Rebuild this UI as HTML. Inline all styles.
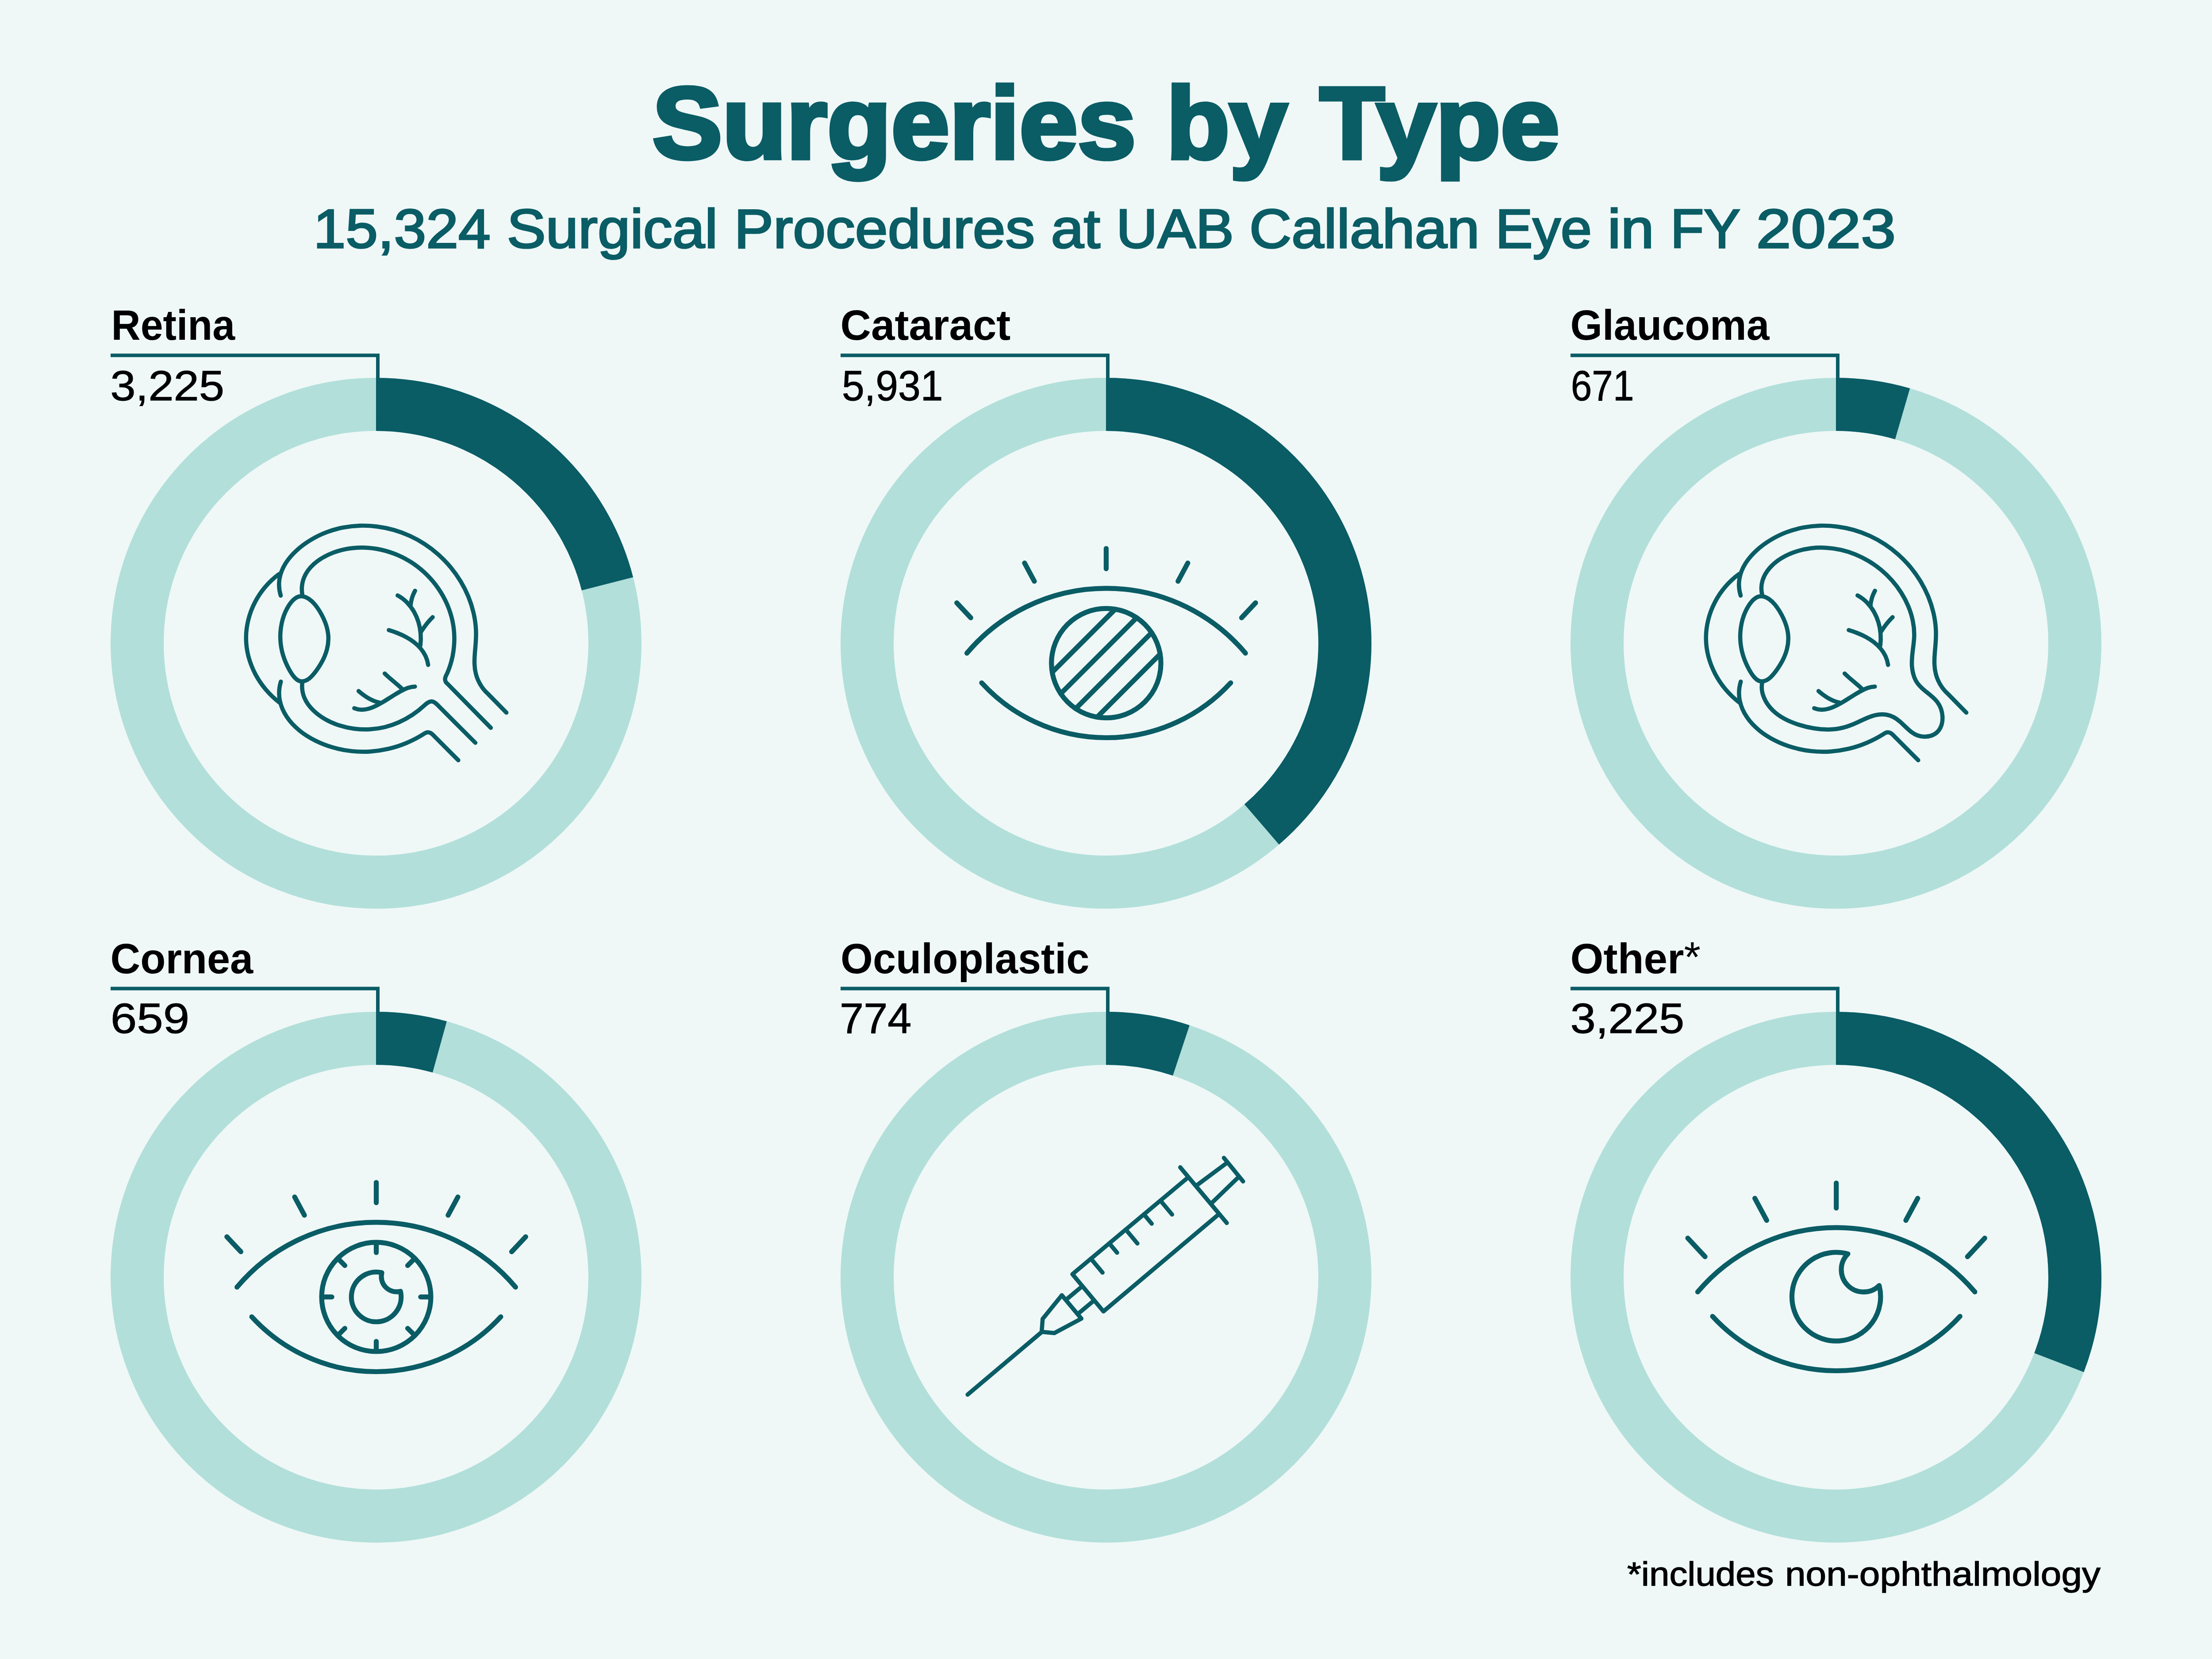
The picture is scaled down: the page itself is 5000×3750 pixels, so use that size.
<!DOCTYPE html>
<html lang="en"><head><meta charset="utf-8"><title>Surgeries by Type</title>
<style>html,body{margin:0;padding:0;background:#eff8f7}body{width:5000px;height:3750px;overflow:hidden}svg{display:block}</style>
</head><body>
<svg width="5000" height="3750" viewBox="0 0 5000 3750">
<rect width="5000" height="3750" fill="#eff8f7"/>
<g fill="none" stroke-width="120">
<circle cx="850" cy="1454" r="540" stroke="#b2dfda"/>
<path d="M850 914 A540 540 0 0 1 1373 1319.7" stroke="#0a5c65"/>
<circle cx="2500" cy="1454" r="540" stroke="#b2dfda"/>
<path d="M2500 914 A540 540 0 0 1 2852 1863.5" stroke="#0a5c65"/>
<circle cx="4150" cy="1454" r="540" stroke="#b2dfda"/>
<path d="M4150 914 A540 540 0 0 1 4300.5 935.4" stroke="#0a5c65"/>
<circle cx="850" cy="2886.9" r="540" stroke="#b2dfda"/>
<path d="M850 2346.9 A540 540 0 0 1 993.9 2366.4" stroke="#0a5c65"/>
<circle cx="2500" cy="2886.9" r="540" stroke="#b2dfda"/>
<path d="M2500 2346.9 A540 540 0 0 1 2670 2374.4" stroke="#0a5c65"/>
<circle cx="4150" cy="2886.9" r="540" stroke="#b2dfda"/>
<path d="M4150 2346.9 A540 540 0 0 1 4654.3 3080" stroke="#0a5c65"/>
</g>
<g fill="#0a5c65">
<path d="M250 799.2H858V856H850V807.2H250Z"/>
<path d="M1900 799.2H2508V856H2500V807.2H1900Z"/>
<path d="M3550 799.2H4158V856H4150V807.2H3550Z"/>
<path d="M250 2230.5H858V2288.9H850V2238.5H250Z"/>
<path d="M1900 2230.5H2508V2288.9H2500V2238.5H1900Z"/>
<path d="M3550 2230.5H4158V2288.9H4150V2238.5H3550Z"/>
</g>
<g font-family="Liberation Sans, Arial, sans-serif">
<text y="358.3" font-size="229.6" font-weight="bold" fill="#0a5c65" stroke="#0a5c65" stroke-width="9" stroke-linejoin="miter" stroke-miterlimit="3">
<tspan x="1474.8" textLength="1093" lengthAdjust="spacingAndGlyphs">Surgeries</tspan>
<tspan x="2636.4" textLength="273.3" lengthAdjust="spacingAndGlyphs">by</tspan>
<tspan x="2983.1" textLength="541.9" lengthAdjust="spacingAndGlyphs">Type</tspan>
</text>
<text y="560.1" font-size="124.6" font-weight="normal" fill="#0a5c65" stroke="#0a5c65" stroke-width="3.5" stroke-linejoin="miter" stroke-miterlimit="3">
<tspan x="708.4" textLength="400.5" lengthAdjust="spacingAndGlyphs">15,324</tspan>
<tspan x="1145.7" textLength="476.7" lengthAdjust="spacingAndGlyphs">Surgical</tspan>
<tspan x="1659.4" textLength="679.8" lengthAdjust="spacingAndGlyphs">Procedures</tspan>
<tspan x="2375.5" textLength="111.4" lengthAdjust="spacingAndGlyphs">at</tspan>
<tspan x="2523.1" textLength="265.9" lengthAdjust="spacingAndGlyphs">UAB</tspan>
<tspan x="2824.1" textLength="520.2" lengthAdjust="spacingAndGlyphs">Callahan</tspan>
<tspan x="3380.2" textLength="217.9" lengthAdjust="spacingAndGlyphs">Eye</tspan>
<tspan x="3633.8" textLength="105" lengthAdjust="spacingAndGlyphs">in</tspan>
<tspan x="3775.7" textLength="156.1" lengthAdjust="spacingAndGlyphs">FY</tspan>
<tspan x="3969.4" textLength="315.9" lengthAdjust="spacingAndGlyphs">2023</tspan>
</text>
<text x="251.6" y="768.3" font-size="97.2" font-weight="bold" fill="#000000" text-anchor="start" textLength="279.5" lengthAdjust="spacingAndGlyphs" >Retina</text>
<text x="249.2" y="904.7" font-size="97.2" font-weight="normal" fill="#000000" text-anchor="start" textLength="257.9" lengthAdjust="spacingAndGlyphs" stroke="#000000" stroke-width="1.0">3,225</text>
<text x="1899.6" y="768.3" font-size="97.2" font-weight="bold" fill="#000000" text-anchor="start" textLength="384.8" lengthAdjust="spacingAndGlyphs" >Cataract</text>
<text x="1903" y="904.7" font-size="97.2" font-weight="normal" fill="#000000" text-anchor="start" textLength="228.7" lengthAdjust="spacingAndGlyphs" stroke="#000000" stroke-width="1.0">5,931</text>
<text x="3549.6" y="768.3" font-size="97.2" font-weight="bold" fill="#000000" text-anchor="start" textLength="449.9" lengthAdjust="spacingAndGlyphs" >Glaucoma</text>
<text x="3550.8" y="904.7" font-size="97.2" font-weight="normal" fill="#000000" text-anchor="start" textLength="142.7" lengthAdjust="spacingAndGlyphs" stroke="#000000" stroke-width="1.0">671</text>
<text x="249.6" y="2200" font-size="97.2" font-weight="bold" fill="#000000" text-anchor="start" textLength="322.6" lengthAdjust="spacingAndGlyphs" >Cornea</text>
<text x="249.8" y="2335.2" font-size="97.2" font-weight="normal" fill="#000000" text-anchor="start" textLength="178.6" lengthAdjust="spacingAndGlyphs" stroke="#000000" stroke-width="1.0">659</text>
<text x="1900" y="2200" font-size="97.2" font-weight="bold" fill="#000000" text-anchor="start" textLength="562.5" lengthAdjust="spacingAndGlyphs" >Oculoplastic</text>
<text x="1898" y="2335.2" font-size="97.2" font-weight="normal" fill="#000000" text-anchor="start" textLength="162.4" lengthAdjust="spacingAndGlyphs" stroke="#000000" stroke-width="1.0">774</text>
<text x="3549.6" y="2200" font-size="97.2" font-weight="bold" fill="#000000" text-anchor="start" textLength="294.5" lengthAdjust="spacingAndGlyphs" >Other<tspan font-weight="normal" dy="-4">*</tspan></text>
<text x="3549.4" y="2335.2" font-size="97.2" font-weight="normal" fill="#000000" text-anchor="start" textLength="257.9" lengthAdjust="spacingAndGlyphs" stroke="#000000" stroke-width="1.0">3,225</text>
<text y="3584.1" font-size="75.8" font-weight="normal" fill="#000000" stroke="#000000" stroke-width="1.4">
<tspan x="3678" textLength="331.6" lengthAdjust="spacingAndGlyphs">*includes</tspan>
<tspan x="4035" textLength="713" lengthAdjust="spacingAndGlyphs">non-ophthalmology</tspan>
</text>
</g>
<g fill="none" stroke="#0a5c65" stroke-width="9.5" stroke-linecap="round" stroke-linejoin="round">
<g>
<path d="M631.3 1297.4C619.6 1305.8 609 1315.6 599.8 1326.4C590.5 1337.2 582.6 1349.1 576.1 1361.7C569.6 1374.2 564.6 1387.5 561.3 1401.1C557.9 1414.7 556.1 1428.6 556.2 1442.5C556.2 1456.4 558.1 1470.3 561.6 1483.9C565.2 1497.4 570.4 1510.6 576.9 1523.2C583.5 1535.7 591.5 1547.6 600.7 1558.5C609.9 1569.4 620.3 1579.3 631.6 1587.9"/>
<path d="M634.5 1346.2C630.4 1332.9 629.8 1320 631.9 1307.8C634 1295.6 638.9 1284 645.6 1273.3C652.4 1262.6 661.1 1252.6 671 1243.7C680.8 1234.7 691.8 1226.8 703.2 1220C714.6 1213.2 726.4 1207.5 738.6 1202.9C750.7 1198.3 763.1 1194.9 775.8 1192.4C788.4 1190 801.1 1188.6 813.9 1188.2C826.7 1187.9 839.6 1188.5 852.3 1190.2C865 1191.8 877.6 1194.4 890 1197.9C902.4 1201.4 914.5 1205.9 926.3 1211.3C938 1216.6 949.4 1222.9 960.2 1230C971.1 1237.1 981.4 1245 991.1 1253.7C1000.8 1262.4 1009.9 1271.8 1018.2 1281.8C1026.5 1291.8 1034.1 1302.4 1040.9 1313.5C1047.6 1324.6 1053.5 1336.2 1058.5 1348.2C1063.4 1360.1 1067.4 1372.4 1070.3 1385C1073.3 1397.5 1075.1 1410.3 1075.8 1423.2C1076.5 1436.1 1075.7 1449.1 1074.6 1462.1C1073.4 1475.1 1072.1 1488 1072.6 1500.8C1073 1513.5 1075.5 1526.1 1080.8 1537.9C1086.1 1549.7 1093.9 1560.6 1104 1569.4L1144.7 1610.8"/>
<path d="M634.8 1540.8C630.3 1555.6 629.9 1569.9 632.5 1583.4C635.2 1596.8 640.9 1609.4 648.5 1620.7C656.1 1632.1 665.8 1642.2 676.7 1651.1C687.7 1660.1 700.1 1667.8 713.1 1674.2C726.1 1680.7 739.8 1685.9 753.5 1689.8C767.3 1693.8 781.3 1696.4 795.3 1697.9C809.3 1699.3 823.4 1699.6 837.4 1698.7C851.3 1697.7 865.2 1695.6 878.9 1692.4C892.5 1689.1 905.9 1684.8 918.9 1679.3C931.9 1673.8 944.6 1667.3 956.7 1659.7C958.4 1658.6 960.3 1657.3 962 1656.6C963.7 1655.9 965.1 1655.2 967 1655.3C968.9 1655.3 971.7 1656.1 973.5 1656.9C975.3 1657.8 976.7 1659.1 978 1660.4L1035.9 1718.4"/>
<path d="M681.9 1347.7C670.5 1347.2 660.9 1356.5 653.7 1367.4C646.5 1378.3 641.9 1389.4 638.7 1400.7C635.6 1412.1 633.9 1424.3 633.6 1436.5C633.4 1448.7 634.8 1460.7 637.5 1472.3C640.3 1484 644.6 1495.3 650 1506.3C655.4 1517.3 661.6 1529.1 671.3 1536.4C681 1543.6 693 1539.7 702.2 1530.9C711.3 1522.2 718.4 1511.6 724.5 1501.5C730.6 1491.5 735.7 1480.4 738.9 1468.5C742.1 1456.6 743.1 1444.4 741.6 1432.5C740.2 1420.6 736.4 1409 731.3 1398C726.2 1387 719.8 1376.4 712.3 1366.9C704.7 1357.5 693.2 1348.3 681.9 1347.7Z"/>
<path d="M898.8 1345.9C906.8 1350.2 913.8 1355.6 920 1361.8C926.1 1368.1 931.4 1375.1 935.7 1382.6C940 1390.2 943.5 1398.3 946 1406.7C948.5 1415.1 950.1 1423.9 950.8 1432.7C951.5 1441.5 951.3 1450.3 950.2 1459"/>
<path d="M928.1 1367.9C928.4 1365 928.8 1362.2 929.4 1359.4C930 1356.6 930.7 1353.8 931.5 1351.1C932.4 1348.4 933.3 1345.7 934.5 1343.1C935.6 1340.5 936.8 1337.9 938.2 1335.4"/>
<path d="M952.1 1427.6C954 1424.7 955.9 1421.8 957.9 1419C959.9 1416.1 962 1413.3 964.1 1410.6C966.3 1407.9 968.5 1405.2 970.8 1402.6C973.1 1400 975.5 1397.5 978 1395.1"/>
<path d="M878.9 1424.3C885.3 1426.2 891.9 1428.4 898.4 1431C904.9 1433.5 911.4 1436.5 917.6 1439.9C923.8 1443.2 929.8 1447 935.4 1451.3C940.9 1455.6 946 1460.3 950.5 1465.5C955 1470.8 958.8 1476.5 961.8 1482.7C964.7 1489 966.8 1495.7 967.8 1502.9"/>
<path d="M937.9 1552C932.2 1552.1 926.8 1553.3 921.7 1555.1C916.5 1556.9 911.5 1559.3 906.6 1562C901.7 1564.6 897 1567.4 892.2 1570.3C887.5 1573.2 882.8 1576.2 878.1 1579.1C873.4 1582.1 868.6 1585.1 863.7 1588C858.8 1590.8 853.8 1593.6 848.7 1596C843.6 1598.5 838.4 1600.6 833.2 1602C827.9 1603.5 822.5 1604.3 817.1 1604.2C811.7 1604 806.3 1603 800.8 1600.8"/>
<path d="M869.6 1522.4C872.9 1525.6 876.3 1528.7 879.7 1531.7C883.2 1534.7 886.7 1537.7 890.2 1540.6C893.7 1543.6 897.2 1546.6 900.7 1549.6C904.1 1552.6 907.5 1555.7 910.8 1558.9"/>
<path d="M810.6 1562.1C814.1 1565.1 817.7 1568 821.4 1570.8C825.1 1573.5 829 1576.1 833 1578.4C837 1580.7 841.2 1582.7 845.4 1584.4C849.7 1586.1 854.1 1587.5 858.7 1588.5"/>
<path d="M683.6 1346.2C680.9 1331.3 682.4 1317.9 687.1 1306C691.7 1294.2 699.5 1283.9 709.1 1275.2C718.8 1266.5 730.3 1259.3 742.5 1253.7C754.8 1248 767.6 1244 780.7 1241.4C793.8 1238.8 807.3 1237.6 820.7 1237.8C834.2 1238.1 847.6 1239.7 860.8 1242.5C874 1245.4 887 1249.6 899.4 1254.9C911.8 1260.2 923.6 1266.8 934.7 1274.3C945.7 1281.9 956.1 1290.5 965.5 1299.9C975 1309.4 983.6 1319.7 991.1 1330.7C998.6 1341.6 1005.1 1353.3 1010.4 1365.4C1015.8 1377.6 1019.9 1390.2 1022.7 1403.2C1025.5 1416.1 1026.9 1429.5 1027 1442.8C1027 1456.2 1025.7 1469.6 1023.1 1482.8C1020.5 1495.9 1016.5 1508.8 1011.2 1521.2C1010.1 1523.7 1008.5 1526.2 1007.6 1528.5C1006.7 1530.8 1006 1532.8 1006 1535C1006 1537.2 1006.6 1539.6 1007.6 1541.5C1008.6 1543.4 1010.7 1544.8 1012.3 1546.4L1109.4 1645.2"/>
<path d="M683.3 1543C681.8 1555.7 683.8 1567.1 688.1 1577.4C692.4 1587.6 699.1 1596.7 707.1 1604.6C715.1 1612.6 724.4 1619.5 734.4 1625.3C744.4 1631.1 755.2 1635.8 766.4 1639.5C777.6 1643.1 789.3 1645.7 801 1647.2C812.8 1648.7 824.6 1649.2 836.1 1648.5C847.7 1647.9 859 1646.2 870.1 1643.5C881.1 1640.8 891.8 1637.1 902.2 1632.4C912.6 1627.8 922.6 1622.2 932.3 1615.8C941.9 1609.4 951.1 1602.1 959.8 1594C962 1591.9 964.9 1589.7 967 1588.4C969.1 1587.1 970.6 1586.5 972.1 1586C973.6 1585.5 974.8 1585.5 976.1 1585.6C977.4 1585.7 978.6 1586 980 1586.6C981.4 1587.2 982.9 1588.2 984.4 1589.3C985.9 1590.4 987.3 1591.7 988.7 1593.1L1074.5 1679"/>
</g>
<g transform="translate(3300 0)">
<path d="M631.3 1297.4C619.6 1305.8 609 1315.6 599.8 1326.4C590.5 1337.2 582.6 1349.1 576.1 1361.7C569.6 1374.2 564.6 1387.5 561.3 1401.1C557.9 1414.7 556.1 1428.6 556.2 1442.5C556.2 1456.4 558.1 1470.3 561.6 1483.9C565.2 1497.4 570.4 1510.6 576.9 1523.2C583.5 1535.7 591.5 1547.6 600.7 1558.5C609.9 1569.4 620.3 1579.3 631.6 1587.9"/>
<path d="M634.5 1346.2C630.4 1332.9 629.8 1320 631.9 1307.8C634 1295.6 638.9 1284 645.6 1273.3C652.4 1262.6 661.1 1252.6 671 1243.7C680.8 1234.7 691.8 1226.8 703.2 1220C714.6 1213.2 726.4 1207.5 738.6 1202.9C750.7 1198.3 763.1 1194.9 775.8 1192.4C788.4 1190 801.1 1188.6 813.9 1188.2C826.7 1187.9 839.6 1188.5 852.3 1190.2C865 1191.8 877.6 1194.4 890 1197.9C902.4 1201.4 914.5 1205.9 926.3 1211.3C938 1216.6 949.4 1222.9 960.2 1230C971.1 1237.1 981.4 1245 991.1 1253.7C1000.8 1262.4 1009.9 1271.8 1018.2 1281.8C1026.5 1291.8 1034.1 1302.4 1040.9 1313.5C1047.6 1324.6 1053.5 1336.2 1058.5 1348.2C1063.4 1360.1 1067.4 1372.4 1070.3 1385C1073.3 1397.5 1075.1 1410.3 1075.8 1423.2C1076.5 1436.1 1075.7 1449.1 1074.6 1462.1C1073.4 1475.1 1072.1 1488 1072.6 1500.8C1073 1513.5 1075.5 1526.1 1080.8 1537.9C1086.1 1549.7 1093.9 1560.6 1104 1569.4L1144.7 1610.8"/>
<path d="M634.8 1540.8C630.3 1555.6 629.9 1569.9 632.5 1583.4C635.2 1596.8 640.9 1609.4 648.5 1620.7C656.1 1632.1 665.8 1642.2 676.7 1651.1C687.7 1660.1 700.1 1667.8 713.1 1674.2C726.1 1680.7 739.8 1685.9 753.5 1689.8C767.3 1693.8 781.3 1696.4 795.3 1697.9C809.3 1699.3 823.4 1699.6 837.4 1698.7C851.3 1697.7 865.2 1695.6 878.9 1692.4C892.5 1689.1 905.9 1684.8 918.9 1679.3C931.9 1673.8 944.6 1667.3 956.7 1659.7C958.4 1658.6 960.3 1657.3 962 1656.6C963.7 1655.9 965.1 1655.2 967 1655.3C968.9 1655.3 971.7 1656.1 973.5 1656.9C975.3 1657.8 976.7 1659.1 978 1660.4L1035.9 1718.4"/>
<path d="M681.9 1347.7C670.5 1347.2 660.9 1356.5 653.7 1367.4C646.5 1378.3 641.9 1389.4 638.7 1400.7C635.6 1412.1 633.9 1424.3 633.6 1436.5C633.4 1448.7 634.8 1460.7 637.5 1472.3C640.3 1484 644.6 1495.3 650 1506.3C655.4 1517.3 661.6 1529.1 671.3 1536.4C681 1543.6 693 1539.7 702.2 1530.9C711.3 1522.2 718.4 1511.6 724.5 1501.5C730.6 1491.5 735.7 1480.4 738.9 1468.5C742.1 1456.6 743.1 1444.4 741.6 1432.5C740.2 1420.6 736.4 1409 731.3 1398C726.2 1387 719.8 1376.4 712.3 1366.9C704.7 1357.5 693.2 1348.3 681.9 1347.7Z"/>
<path d="M898.8 1345.9C906.8 1350.2 913.8 1355.6 920 1361.8C926.1 1368.1 931.4 1375.1 935.7 1382.6C940 1390.2 943.5 1398.3 946 1406.7C948.5 1415.1 950.1 1423.9 950.8 1432.7C951.5 1441.5 951.3 1450.3 950.2 1459"/>
<path d="M928.1 1367.9C928.4 1365 928.8 1362.2 929.4 1359.4C930 1356.6 930.7 1353.8 931.5 1351.1C932.4 1348.4 933.3 1345.7 934.5 1343.1C935.6 1340.5 936.8 1337.9 938.2 1335.4"/>
<path d="M952.1 1427.6C954 1424.7 955.9 1421.8 957.9 1419C959.9 1416.1 962 1413.3 964.1 1410.6C966.3 1407.9 968.5 1405.2 970.8 1402.6C973.1 1400 975.5 1397.5 978 1395.1"/>
<path d="M878.9 1424.3C885.3 1426.2 891.9 1428.4 898.4 1431C904.9 1433.5 911.4 1436.5 917.6 1439.9C923.8 1443.2 929.8 1447 935.4 1451.3C940.9 1455.6 946 1460.3 950.5 1465.5C955 1470.8 958.8 1476.5 961.8 1482.7C964.7 1489 966.8 1495.7 967.8 1502.9"/>
<path d="M937.9 1552C932.2 1552.1 926.8 1553.3 921.7 1555.1C916.5 1556.9 911.5 1559.3 906.6 1562C901.7 1564.6 897 1567.4 892.2 1570.3C887.5 1573.2 882.8 1576.2 878.1 1579.1C873.4 1582.1 868.6 1585.1 863.7 1588C858.8 1590.8 853.8 1593.6 848.7 1596C843.6 1598.5 838.4 1600.6 833.2 1602C827.9 1603.5 822.5 1604.3 817.1 1604.2C811.7 1604 806.3 1603 800.8 1600.8"/>
<path d="M869.6 1522.4C872.9 1525.6 876.3 1528.7 879.7 1531.7C883.2 1534.7 886.7 1537.7 890.2 1540.6C893.7 1543.6 897.2 1546.6 900.7 1549.6C904.1 1552.6 907.5 1555.7 910.8 1558.9"/>
<path d="M810.6 1562.1C814.1 1565.1 817.7 1568 821.4 1570.8C825.1 1573.5 829 1576.1 833 1578.4C837 1580.7 841.2 1582.7 845.4 1584.4C849.7 1586.1 854.1 1587.5 858.7 1588.5"/>
<path d="M683.7 1346.2C680.3 1334.1 680.9 1322.5 684.1 1311.9C687.4 1301.2 693.4 1291.5 700.9 1283C708.5 1274.5 717.4 1267.2 727.3 1261.3C737.2 1255.3 747.9 1250.5 759.1 1246.9C770.2 1243.3 781.7 1240.8 793.2 1239.3C804.6 1237.9 816.1 1237.5 827.4 1238.2C838.8 1238.8 850.1 1240.4 861.1 1242.9C872.2 1245.4 883.1 1248.8 893.6 1253.1C904.1 1257.4 914.3 1262.5 924.1 1268.4C933.9 1274.2 943.3 1280.9 952.1 1288.2C960.9 1295.5 969.2 1303.6 976.8 1312.2C984.4 1320.8 991.4 1330.1 997.6 1339.9C1003.8 1349.7 1009.2 1360 1013.6 1370.6C1018 1381.3 1021.5 1392.3 1023.7 1403.5C1026 1414.6 1027.1 1426 1026.9 1437.4C1026.6 1448.7 1024.9 1460.1 1023.5 1471.5C1022.1 1483 1021 1494.6 1021.8 1506.1C1022.7 1517.6 1025.3 1528.8 1030.5 1538.5C1035.7 1548.2 1044.1 1555.9 1053.3 1563.2C1062.5 1570.5 1072.2 1577.6 1079.2 1587C1086.2 1596.3 1090.2 1608.2 1090.8 1620C1091.4 1631.7 1088.6 1643.2 1082 1651.4C1075.3 1659.7 1064.4 1664.4 1053 1665.1C1041.6 1665.8 1030.5 1662 1021.2 1655.1C1011.8 1648.2 1003.5 1638.9 994.7 1631.1C985.8 1623.3 976.1 1617.6 965.2 1615.7C954.4 1613.9 942.7 1615.1 931.7 1618.6C920.6 1622 910.2 1627.5 899.6 1632.3C889 1637.2 878.4 1641.4 867.5 1644.4C856.6 1647.3 845.4 1648.8 834 1649C822.7 1649.2 811.3 1648.3 799.8 1646.3C788.4 1644.4 777.1 1641.6 765.9 1638.1C754.8 1634.6 744 1630.3 733.9 1624.9C723.9 1619.5 714.6 1613 706.6 1605.1C698.6 1597.2 691.7 1587.6 687.3 1576.9C682.8 1566.2 680.9 1554.6 683.3 1543"/>
</g>
<path d="M2187.2 3152.4L2354.6 3011"/>
<path d="M2400.2 2927.8 L2356.8 2981.3 L2354.6 3010.6 L2383.2 3013.2 L2444.3 2980.6Z"/>
<path d="M2411.4 2936.5L2442.1 2910.8"/>
<path d="M2439.3 2967.6L2469.6 2942.3"/>
<path d="M2684.4 2662.4 L2424.1 2880.1 L2494.2 2964.3 L2753.8 2745.6"/>
<path d="M2667.8 2638.6L2773 2764.4"/>
<path d="M2705 2679.4L2773 2628.8"/>
<path d="M2738.3 2719.9L2799.7 2660.6"/>
<path d="M2766.5 2617.2L2809.9 2670.4"/>
<path d="M2465.9 2845.1L2492.2 2876.6"/>
<path d="M2507.6 2810.6L2525.1 2831.6"/>
<path d="M2544.7 2779.2L2571 2810.7"/>
<path d="M2585.8 2745L2603.3 2766"/>
<path d="M2623 2713.8L2649.3 2745.3"/>
</g>
<g fill="none" stroke="#0a5c65" stroke-width="11.2" stroke-linecap="round" stroke-linejoin="round">
<path d="M2185.6 1476.4A411.3 411.3 0 0 1 2815.2 1476.4"/>
<path d="M2219 1543.5A381.3 381.3 0 0 0 2781.8 1543.5"/>
<path d="M2500.4 1239.8L2500.4 1285.6"/>
<path d="M2315.9 1272.7L2338 1313.8"/>
<path d="M2162.7 1362.7L2194.3 1396.3"/>
<path d="M2684.9 1272.7L2662.8 1313.8"/>
<path d="M2838.1 1362.7L2806.5 1396.3"/>
<circle cx="2500.4" cy="1499" r="123.7"/>
<path d="M2378.4 1519.5L2520.9 1377"/>
<path d="M2397.7 1567.9L2569.3 1396.3"/>
<path d="M2431.5 1601.7L2603.1 1430.1"/>
<path d="M2479.9 1621L2622.4 1478.5"/>
<path d="M535.7 2909.4A411.3 411.3 0 0 1 1165.3 2909.4"/>
<path d="M569.1 2976.5A381.3 381.3 0 0 0 1131.9 2976.5"/>
<path d="M850.5 2672.8L850.5 2718.6"/>
<path d="M666 2705.7L688.1 2746.8"/>
<path d="M512.8 2795.7L544.4 2829.3"/>
<path d="M1035 2705.7L1012.9 2746.8"/>
<path d="M1188.2 2795.7L1156.6 2829.3"/>
<circle cx="850.5" cy="2931.6" r="123.4"/>
<path d="M971.9 2931.6L950.9 2931.6"/>
<path d="M936.3 3017.4L921.5 3002.6"/>
<path d="M850.5 3053L850.5 3032"/>
<path d="M764.7 3017.4L779.5 3002.6"/>
<path d="M729.1 2931.6L750.1 2931.6"/>
<path d="M764.7 2845.8L779.5 2860.6"/>
<path d="M850.5 2810.2L850.5 2831.2"/>
<path d="M936.3 2845.8L921.5 2860.6"/>
<path d="M863.1 2876.8A56.2 56.2 0 1 0 905.2 2918.8A34.4 34.4 0 0 1 863.1 2876.8Z"/>
<path d="M3837.5 2920.2A410 410 0 0 1 4463.9 2920.2"/>
<path d="M3871.1 2975.5A379.3 379.3 0 0 0 4430.3 2975.5"/>
<path d="M4150.7 2674.2L4150.7 2730.7"/>
<path d="M3966.6 2708.6L3993.4 2758.5"/>
<path d="M3815.1 2798.7L3854.1 2840.6"/>
<path d="M4334.8 2708.6L4308 2758.5"/>
<path d="M4486.3 2798.7L4447.3 2840.6"/>
<path d="M4177 2834.3A100.2 100.2 0 1 0 4247.7 2905.9A50.3 50.3 0 0 1 4177 2834.3Z"/>
</g>
</svg>
</body></html>
